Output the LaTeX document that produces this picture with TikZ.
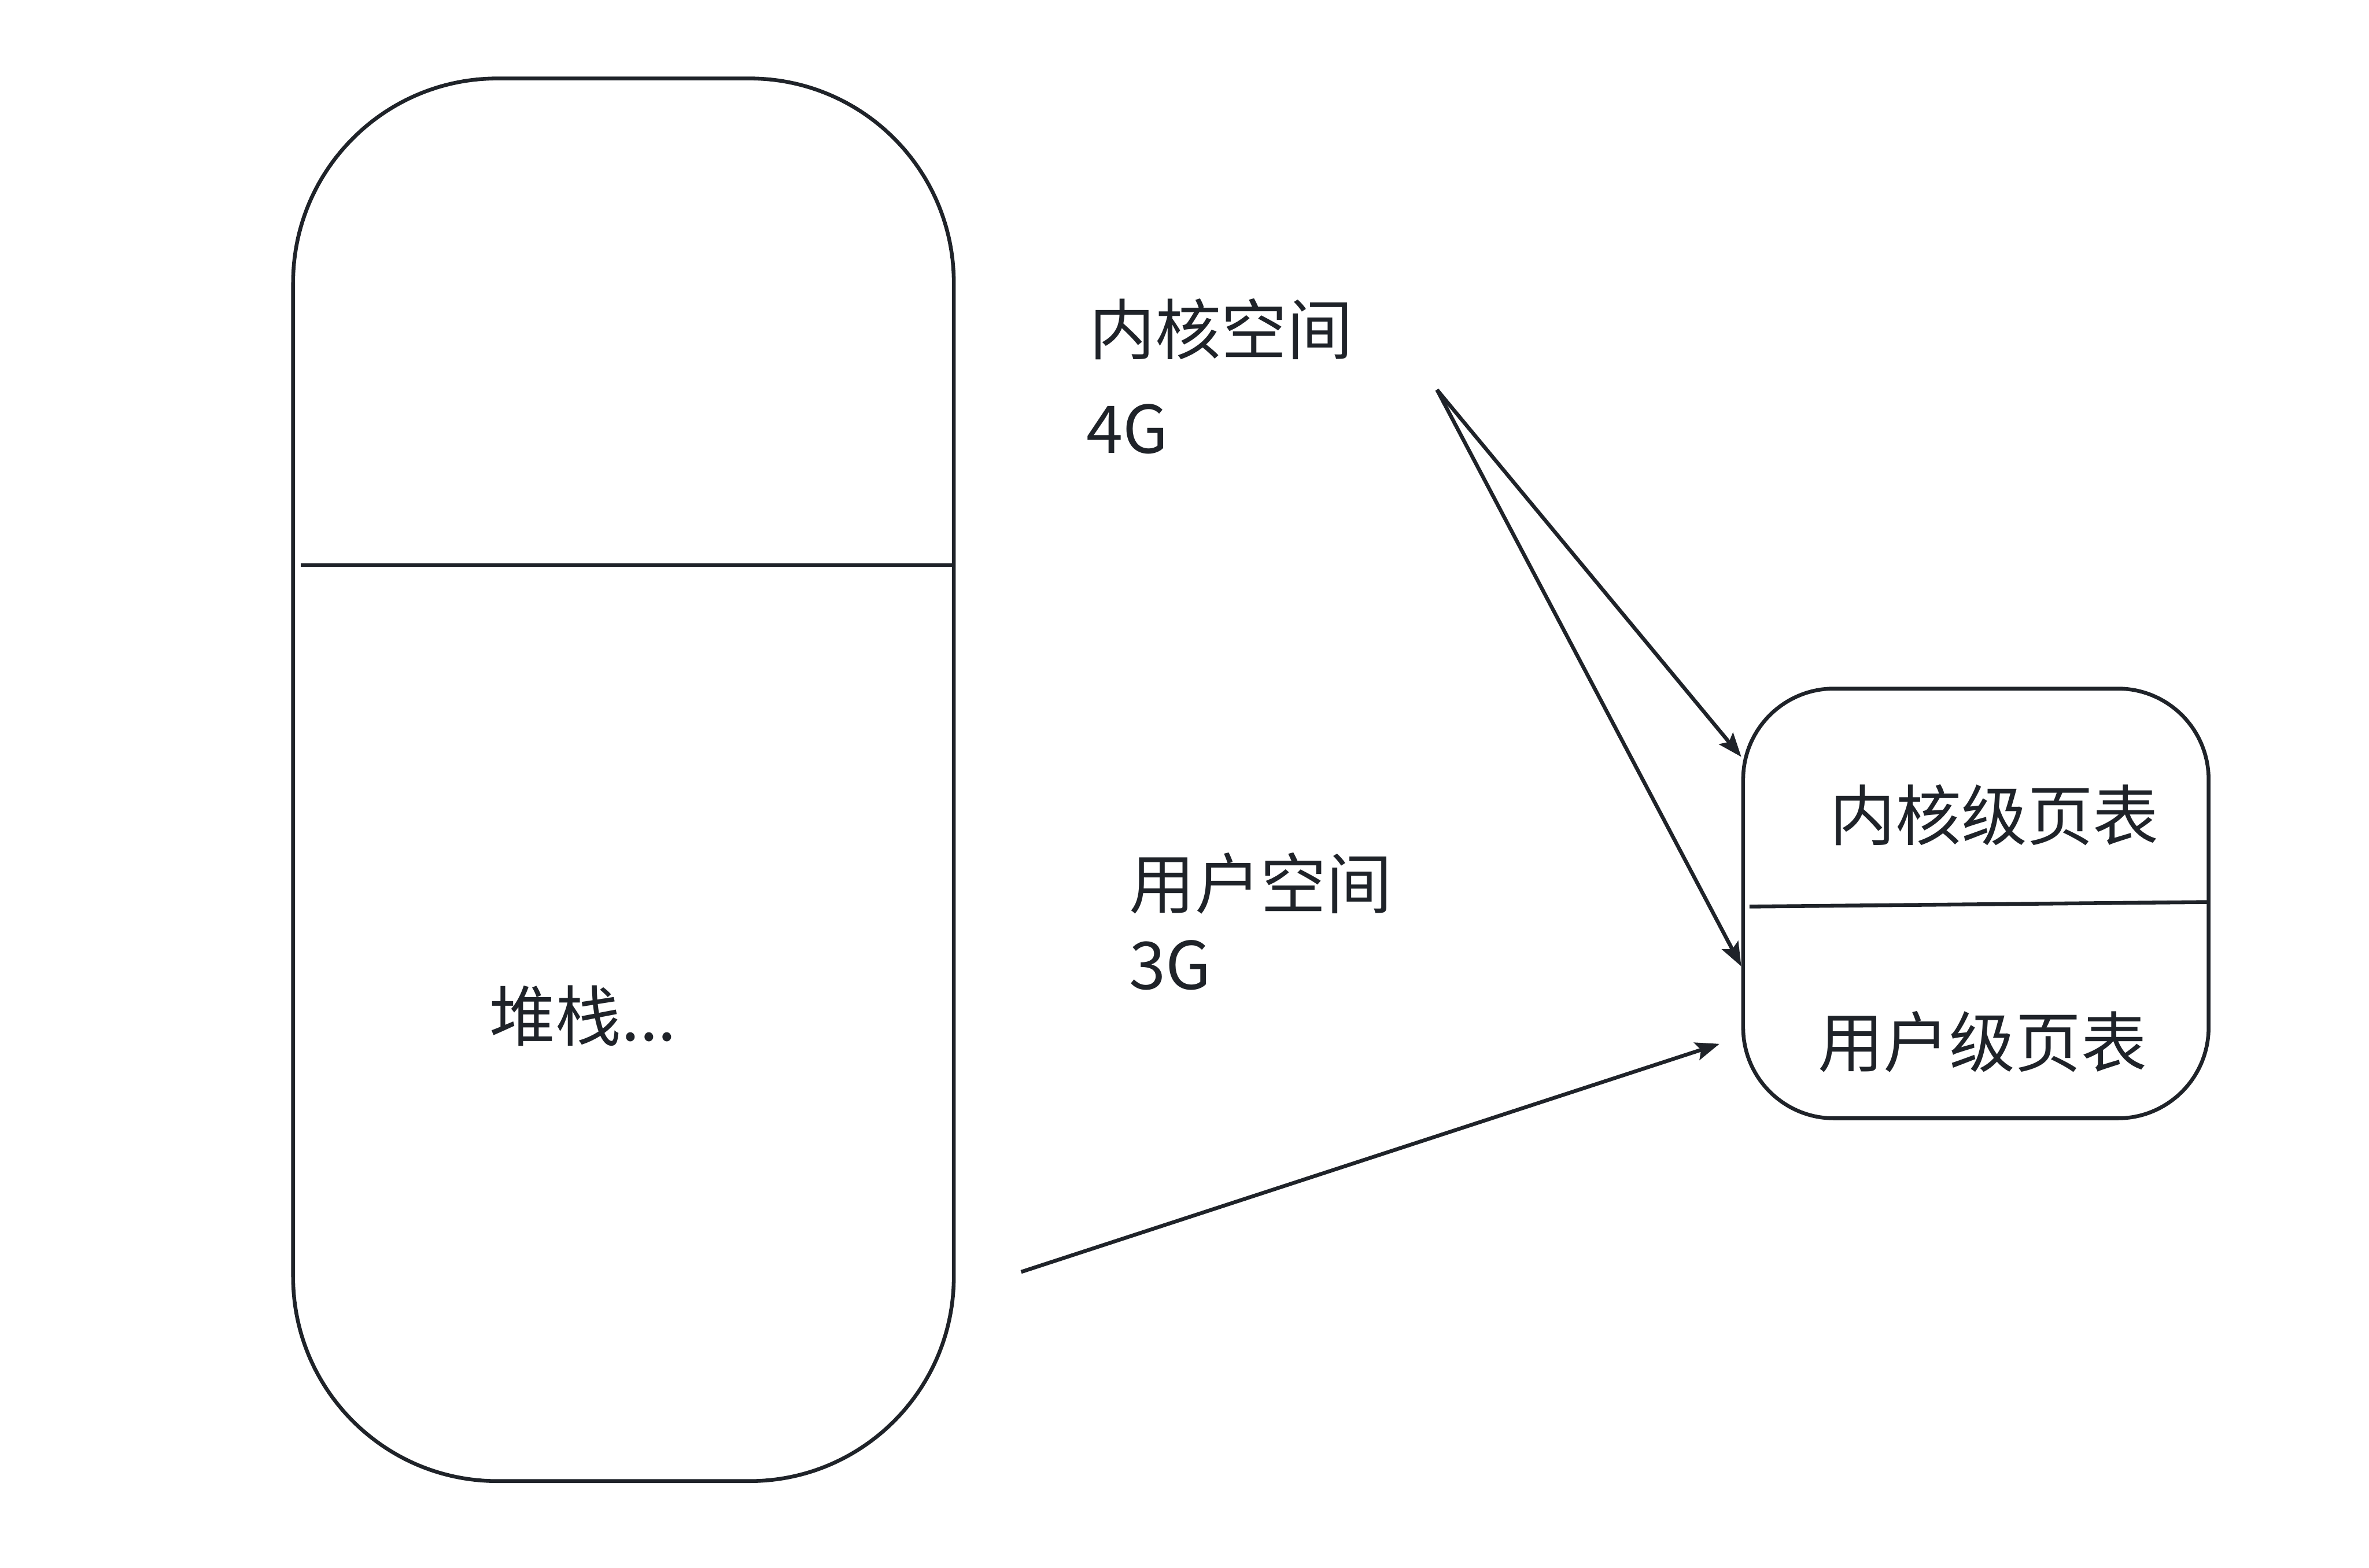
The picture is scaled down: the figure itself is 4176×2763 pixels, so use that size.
\documentclass[tikz,border=0pt]{standalone}
\usepackage{fontspec}
\newfontfamily\cjk{Noto Sans CJK SC}
\usetikzlibrary{arrows.meta}
\definecolor{ink}{HTML}{1F2329}

\begin{document}
\begin{tikzpicture}[x=0.01cm, y=-0.01cm, ink, line width=1.9pt,
  every node/.style={font=\cjk\fontsize{33}{40}\selectfont, inner sep=0pt, text=ink},
  arr/.style={-{Stealth[length=0.42cm, width=0.32cm, inset=0.08cm]}, line width=1.9pt}]
\useasboundingbox (0,0) rectangle (4176,2763);
\node[draw, rounded corners=3.6cm, minimum width=11.64cm, minimum height=24.71cm] (mem) at (1099,1374.5) {};
\draw (530,996) -- (1681,996);
\node[anchor=base west] (stack) at (860,1835) {堆栈...};

\node[anchor=base west] (kspace) at (1917,624) {内核空间};
\node[anchor=base west] (ksize) at (1912,799) {4G};
\node[anchor=base west] (uspace) at (1987,1601) {用户空间};
\node[anchor=base west] (usize) at (1987,1744) {3G};

\node[draw, rounded corners=1.6cm, minimum width=8.2cm, minimum height=7.57cm] (pt) at (3483,1592.5) {};
\draw (3084,1598) -- (3893,1590);
\node[anchor=base west] (ktable) at (3222,1481) {内核级页表};
\node[anchor=base west] (utable) at (3201,1881) {用户级页表};

\coordinate (kfrom) at (2533,687);
\coordinate (ufrom) at (1800,2242);
\coordinate (uto) at (3031,1840);
\draw[arr] (kfrom) -- (pt.148);
\draw[arr] (kfrom) -- (pt.195);
\draw[arr] (ufrom) -- (uto);
\end{tikzpicture}
\end{document}
